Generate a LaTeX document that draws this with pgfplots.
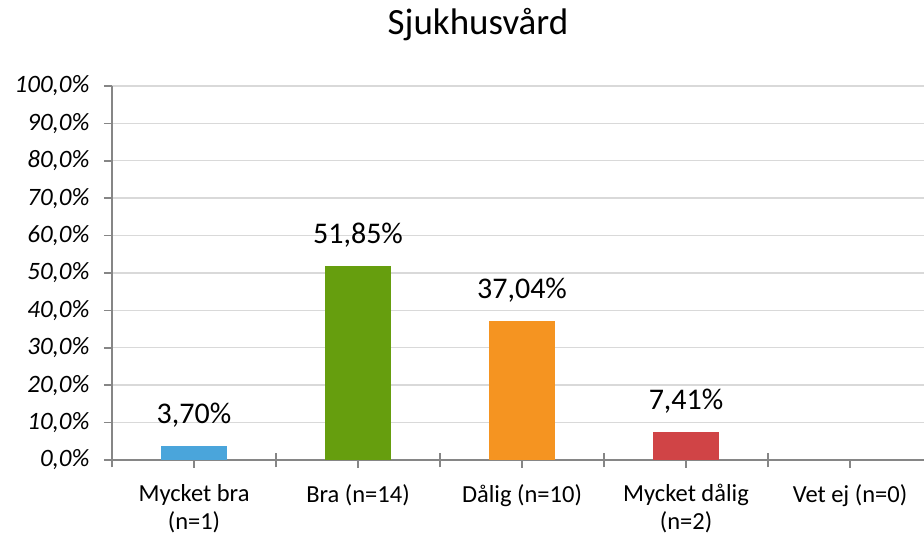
\documentclass[border=0pt]{standalone}
\usepackage{fontspec}
\setmainfont{Carlito}
\usepackage{pgfplots}
\pgfplotsset{compat=1.18}
\definecolor{cblue}{RGB}{74,165,219}
\definecolor{cgreen}{RGB}{102,158,14}
\definecolor{corange}{RGB}{245,148,33}
\definecolor{cred}{RGB}{208,68,70}
\definecolor{axgray}{RGB}{134,134,134}
\definecolor{gridgray}{RGB}{217,217,217}
\begin{document}
\begin{tikzpicture}
\begin{axis}[
  at={(112pt,76pt)}, anchor=south west,
  scale only axis, width=812pt, height=374pt,
  xmin=-0.5, xmax=4.451, ymin=0, ymax=100,
  axis x line=bottom, axis y line=left,
  axis line style={-, draw=axgray, line width=1.6pt},
  ytick={0,10,...,100},
  yticklabels={{0,0\%},{10,0\%},{20,0\%},{30,0\%},{40,0\%},{50,0\%},{60,0\%},{70,0\%},{80,0\%},{90,0\%},{100,0\%}},
  yticklabel style={font=\fontsize{25}{29}\selectfont\itshape, xshift=-11pt},
  ymajorgrids, major grid style={draw=gridgray, line width=1.4pt},
  ytick style={draw=axgray, line width=1.6pt},
  major tick length=8pt,
  tick align=outside,
  xtick={0,1,2,3,4},
  xticklabels={{Mycket bra\\(n=1)},{Bra (n=14)},{Dålig (n=10)},{Mycket dålig\\(n=2)},{Vet ej (n=0)}},
  xticklabel style={font=\fontsize{24.5}{28}\selectfont, align=center, anchor=north, yshift=-13pt},
  xtick style={draw=axgray, line width=1.6pt},
  extra x ticks={-0.5,0.5,1.5,2.5,3.5},
  extra x tick labels={},
  extra x tick style={tick align=center, major tick length=15pt, grid=none},
  ybar, bar width=66pt, bar shift=0pt,
  nodes near coords,
  point meta=explicit symbolic,
  every node near coord/.append style={font=\fontsize{30}{34}\selectfont, anchor=base, yshift=23pt, inner sep=0pt},
  title={Sjukhusvård},
  title style={font=\fontsize{37}{42}\selectfont, at={(0.5,1)}, anchor=base, yshift=45pt, xshift=-40pt},
  clip=false,
]
\addplot[fill=cblue, draw=none] coordinates {(0,3.70) [3,70\%]};
\addplot[fill=cgreen, draw=none] coordinates {(1,51.85) [51,85\%]};
\addplot[fill=corange, draw=none] coordinates {(2,37.04) [37,04\%]};
\addplot[fill=cred, draw=none] coordinates {(3,7.41) [7,41\%]};
\end{axis}
\pgfresetboundingbox
\path[use as bounding box] (0,0) rectangle (924pt,536pt);
\end{tikzpicture}
\end{document}
